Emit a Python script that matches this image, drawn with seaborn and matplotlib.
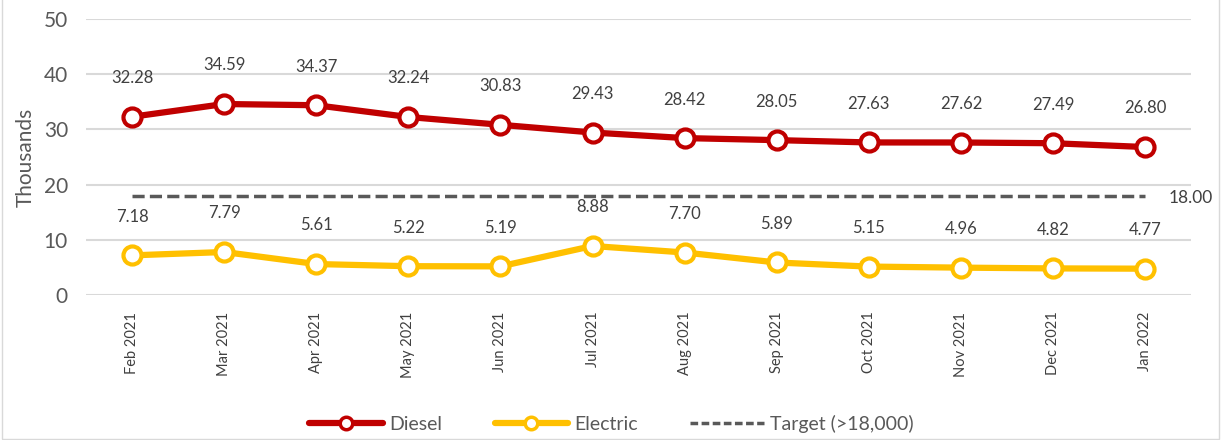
import matplotlib
matplotlib.use("Agg")
import matplotlib.pyplot as plt
from matplotlib.lines import Line2D
import pandas as pd
import seaborn as sns

# chart data (values in thousands)
months = ["Feb 2021", "Mar 2021", "Apr 2021", "May 2021", "Jun 2021", "Jul 2021",
          "Aug 2021", "Sep 2021", "Oct 2021", "Nov 2021", "Dec 2021", "Jan 2022"]
diesel = [32.28, 34.59, 34.37, 32.24, 30.83, 29.43, 28.42, 28.05, 27.63, 27.62, 27.49, 26.80]
electric = [7.18, 7.79, 5.61, 5.22, 5.19, 8.88, 7.70, 5.89, 5.15, 4.96, 4.82, 4.77]
target = [18.00] * len(months)

df = pd.DataFrame({"month": months * 2,
                   "value": diesel + electric,
                   "series": ["Diesel"] * len(months) + ["Electric"] * len(months)})

sns.set_style("white")
plt.rcParams["font.family"] = ["Lato", "DejaVu Sans"]
text_col = "#404040"

fig = plt.figure(figsize=(12.23, 4.40), dpi=100)
ax = fig.add_axes([0.0703, 0.3295, 0.9037, 0.6275])

colors = {"Diesel": "#C00000", "Electric": "#FFC000"}
sns.lineplot(data=df, x="month", y="value", hue="series", palette=colors,
             sort=False, linewidth=4.5, marker="o", markersize=13,
             markerfacecolor="white", markeredgewidth=3, ax=ax, legend=False)
for line, key in zip(ax.lines, ["Diesel", "Electric"]):
    line.set_markeredgecolor(colors[key])

ax.plot(months, target, color="#595959", linestyle=(0, (3.5, 1.5)), linewidth=2.5)

# data labels
for i, m in enumerate(months):
    ax.annotate(f"{diesel[i]:.2f}", (i, diesel[i]), xytext=(0, 22), textcoords="offset points",
                ha="center", va="bottom", fontsize=12, color=text_col)
    ax.annotate(f"{electric[i]:.2f}", (i, electric[i]), xytext=(0, 22), textcoords="offset points",
                ha="center", va="bottom", fontsize=12, color=text_col)
ax.annotate(f"{target[-1]:.2f}", (len(months) - 1, target[-1]), xytext=(17, -2),
            textcoords="offset points", ha="left", va="center", fontsize=12.5,
            color=text_col, annotation_clip=False)

ax.set_xlim(-0.5, len(months) - 0.5)
ax.set_ylim(0, 50)
ax.set_yticks([0, 10, 20, 30, 40, 50])
ax.yaxis.grid(True, color="#D9D9D9", linewidth=1.5)
ax.set_axisbelow(True)
for s in ax.spines.values():
    s.set_visible(False)
ax.tick_params(axis="y", labelsize=15, colors="#595959", length=0, pad=13)
ax.tick_params(axis="x", labelsize=10.5, colors=text_col, length=0, pad=12)
plt.setp(ax.get_xticklabels(), rotation=90, ha="center", va="top")
ax.set_xlabel("")
ax.set_ylabel("Thousands", fontsize=15, color="#595959", labelpad=6)

# legend
handles = [
    Line2D([], [], color="#C00000", linewidth=4.5, marker="o", markersize=9,
           markerfacecolor="white", markeredgewidth=2.5),
    Line2D([], [], color="#FFC000", linewidth=4.5, marker="o", markersize=9,
           markerfacecolor="white", markeredgewidth=2.5),
    Line2D([], [], color="#595959", linewidth=2.5, linestyle=(0, (2.2, 1.0))),
]
fig.legend(handles, ["Diesel", "Electric", "Target (>18,000)"], loc="center",
           bbox_to_anchor=(0.5, 0.0375), ncol=3, frameon=False, fontsize=14,
           handlelength=3.8, columnspacing=2.7, handletextpad=0.3,
           labelcolor="#595959")

# outer border
fig.patches.append(plt.Rectangle((0.002, 0.002), 0.995, 1.2, transform=fig.transFigure,
                                 fill=False, edgecolor="#D9D9D9", linewidth=1))

fig.savefig("out.png", dpi=100)
